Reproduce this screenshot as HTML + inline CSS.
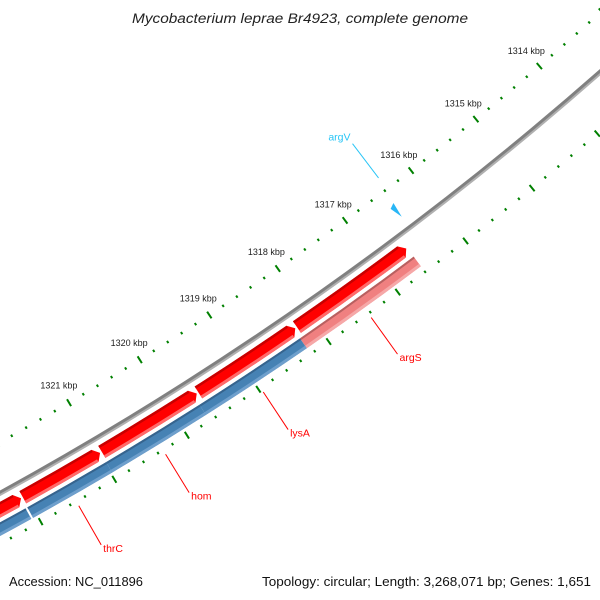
<!DOCTYPE html>
<html><head><meta charset="utf-8"><style>
html,body{margin:0;padding:0;background:#fff;}
svg{display:block;font-family:"Liberation Sans","DejaVu Sans",sans-serif;}
</style></head><body>
<svg id="map" width="600" height="600" viewBox="0 0 600 600" xmlns="http://www.w3.org/2000/svg">
<rect width="600" height="600" fill="#fff"/>
<text x="132" y="23" font-size="13.5" font-style="italic" fill="#222" textLength="336" lengthAdjust="spacingAndGlyphs">Mycobacterium leprae Br4923, complete genome</text>
<text x="9" y="586" font-size="13" fill="#111" textLength="134" lengthAdjust="spacingAndGlyphs">Accession: NC_011896</text>
<text x="262" y="586" font-size="13" fill="#111" textLength="329" lengthAdjust="spacingAndGlyphs">Topology: circular; Length: 3,268,071 bp; Genes: 1,651</text>
<g id="layer"></g>
</svg>
<script>
// ---- data ----
const tickLabels = [1314, 1315, 1316, 1317, 1318, 1319, 1320, 1321];
const fwdGeneStarts = [1316600, 1318223, 1319627, 1320974, 1322056];
const fwdGeneEnds   = [1318223, 1319627, 1320974, 1322056, 1323500];
const revGeneNames  = ["argS", "lysA", "hom", "thrC", ""];
const revGeneStarts = [1316600, 1318257, 1319683, 1320980, 1322080];
const revGeneEnds   = [1318257, 1319683, 1320980, 1322056, 1323500];
const revGeneColors = ["#f08080", "#4682b4", "#4682b4", "#4682b4", "#4682b4"];
const rnaNames = ["argV"];
const rnaPos = [1316367];

// ---- geometry ----
const CX = -1614.5, CY = -2446;
const T0 = 49.39, K = 1.4325e-3; // degrees, degrees per bp
const BP0 = 1314000;
function ang(bp){ return (T0 + (bp - BP0) * K) * Math.PI / 180; }
function pt(bp, r){ const a = ang(bp); return [CX + r*Math.cos(a), CY + r*Math.sin(a)]; }
function f(p){ return p[0].toFixed(2)+","+p[1].toFixed(2); }
function band(a, b, r1, r2){
  return "M"+f(pt(a,r1))+" A"+r1+","+r1+" 0 0 1 "+f(pt(b,r1))+" L"+f(pt(b,r2))+" A"+r2+","+r2+" 0 0 0 "+f(pt(a,r2))+" Z";
}
const NS = "http://www.w3.org/2000/svg";
const layer = document.getElementById("layer");
function mk(tag, attrs){ const e = document.createElementNS(NS, tag); for (const k in attrs) e.setAttribute(k, attrs[k]); layer.appendChild(e); return e; }

// backbone
let bb = mk("path", {d: band(1311000, 1324500, 3351, 3355), fill: "#808080"});


let bb2 = mk("path", {d: band(1311000, 1324500, 3354, 3356), fill: "#b0b0b0"});



// ticks (two rings)
const RO = 3309, RI = 3398;
for (let bp = 1311000; bp <= 1324500; bp += 200) {
  const major = (bp % 1000 === 0);
  const len = major ? 4 : 1.3;
  [RO, RI].forEach(function(r){
    const l = mk("line", {x1: pt(bp, r-len)[0], y1: pt(bp, r-len)[1], x2: pt(bp, r+len)[0], y2: pt(bp, r+len)[1], stroke: "#008000", "stroke-width": 2});
    
    
  });
}
tickLabels.forEach(function(k){
  const p = pt(k*1000, RO - 20);
  const t = mk("text", {x: p[0], y: p[1] + 3, "text-anchor": "middle", "font-size": "9", fill: "#222"});
  t.textContent = k + " kbp";
  
  
});

// forward-ring genes (red arrows, pointing toward lower bp)
const R1 = 3361, R2 = 3375, HEAD = 70;
for (let i = 0; i < fwdGeneStarts.length; i++) {
  const a = fwdGeneStarts[i] + 12, b = fwdGeneEnds[i] - 12;
  const rm = (R1 + R2) / 2;
  const d = "M"+f(pt(a, rm))+" L"+f(pt(a+HEAD, R1))+" A"+R1+","+R1+" 0 0 1 "+f(pt(b,R1))+" L"+f(pt(b,R2))+" A"+R2+","+R2+" 0 0 0 "+f(pt(a+HEAD,R2))+" Z";
  const g = mk("path", {d: d, fill: "#ff0000"});
  
  
  const s1 = mk("path", {d: band(a+HEAD, b, R1, R1+2.5), fill: "#c80000"});
  
  
  const s2 = mk("path", {d: band(a+HEAD, b, R2-3, R2), fill: "#ff6a6a"});
  
  
}

// reverse-ring genes
const Q1 = 3379, Q2 = 3391;
for (let i = 0; i < revGeneStarts.length; i++) {
  const a = revGeneStarts[i], b = revGeneEnds[i];
  const col = revGeneColors[i];
  const g = mk("path", {d: band(a, b, Q1, Q2), fill: col});
  
  
  const s1 = mk("path", {d: band(a, b, Q1, Q1+2), fill: col === "#f08080" ? "#b86060" : "#36648e"});
  
  
  const s2 = mk("path", {d: band(a, b, Q2-3, Q2), fill: col === "#f08080" ? "#f6a8a8" : "#6e9fcc"});
  
  
  if (revGeneNames[i]) {
    const mid = (a + b) / 2;
    const p1 = pt(mid, 3403), p2 = pt(mid, 3448);
    const ln = mk("line", {x1: p1[0], y1: p1[1], x2: p2[0], y2: p2[1], stroke: "#ff0000", "stroke-width": 1});
    
    
    const t = mk("text", {x: p2[0] + 2, y: p2[1] + 7, "font-size": "10.5", fill: "#ff0000"});
    t.textContent = revGeneNames[i];
    
    
  }
}

// RNA features
for (let i = 0; i < rnaNames.length; i++) {
  const bp = rnaPos[i];
  const d = "M"+f(pt(bp+40, 3324))+" L"+f(pt(bp+110, 3327))+" L"+f(pt(bp+60, 3340))+" Z";
  const tri = mk("path", {d: d, fill: "#29b6f6"});
  
  
  const p1 = pt(bp, 3295), p2 = pt(bp, 3252);
  const ln = mk("line", {x1: p1[0], y1: p1[1], x2: p2[0], y2: p2[1], stroke: "#29c5f6", "stroke-width": 1});
  
  
  const t = mk("text", {x: p2[0] - 2, y: p2[1] - 3, "text-anchor": "end", "font-size": "10.5", fill: "#29c5f6"});
  t.textContent = rnaNames[i];
  
  
}
</script>
</body></html>
